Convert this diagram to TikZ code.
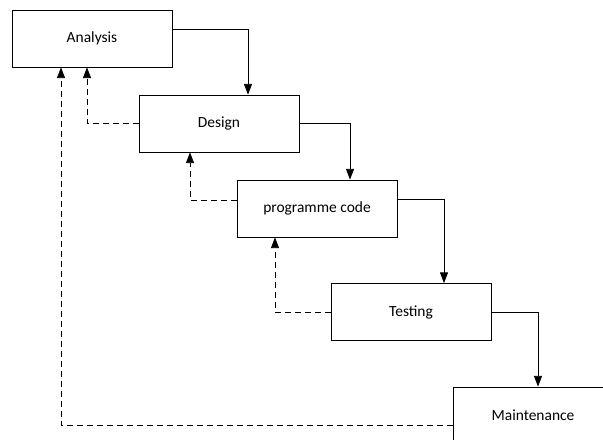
\documentclass[tikz,border=0pt]{standalone}
\usepackage{fontspec}
\setmainfont{Carlito}
\usetikzlibrary{arrows.meta,calc}

\tikzset{
    stage/.style={draw, line width=0.6pt, minimum width=120pt, minimum height=42.75pt, font=\fontsize{11.6}{14}\selectfont},
    flow/.style={line width=0.6pt, -{Triangle[length=8pt,width=6pt]}},
    back/.style={flow, dash pattern=on 4.5pt off 3pt}
}

\begin{document}
\begin{tikzpicture}[x=0.75pt, y=-0.75pt]
    \useasboundingbox (0,0) rectangle (603,439);
    \clip (0,0) rectangle (603,439);

    % Phasen
    \node[stage] (ana)   at (92,38.5)   {Analysis};
    \node[stage] (des)   at (219,123.5) {Design};
    \node[stage] (code)  at (317,208.5) {programme code};
    \node[stage] (test)  at (411,312)   {Testing};
    \node[stage] (maint) at (533,415.5) {Maintenance};

    % Wasserfall nach unten
    \draw[flow] ($(ana.east)+(0,-9.5)$) -| ($(des.north)+(29,0)$);
    \draw[flow] (des.east) -| ($(code.north)+(33,0)$);
    \draw[flow] ($(code.east)+(0,-9.5)$) -| ($(test.north)+(33,0)$);
    \draw[flow] (test.east) -| ($(maint.north)+(5,0)$);

    % Rueckkopplung (gestrichelt)
    \draw[back] (des.west) -| ($(ana.south)+(-5,0)$);
    \draw[back] ($(code.west)+(0,-8.5)$) -| ($(des.south)+(-29,0)$);
    \draw[back] (test.west) -| ($(code.south)+(-42,0)$);
    \draw[back] ($(maint.west)+(0,9.5)$) -| ($(ana.south)+(-31,0)$);
\end{tikzpicture}
\end{document}
